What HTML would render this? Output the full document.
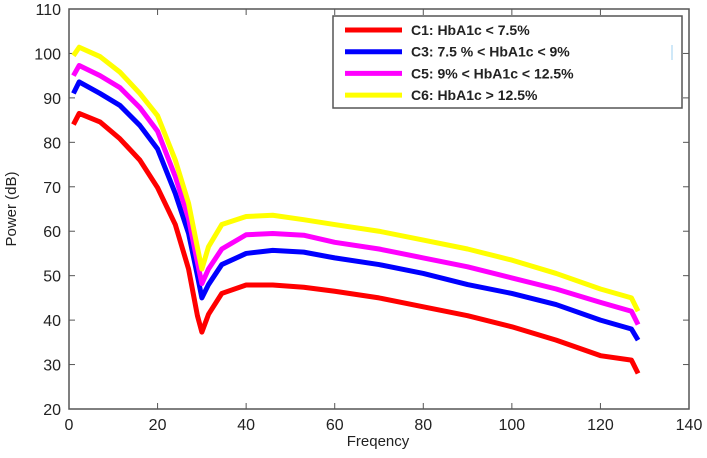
<!DOCTYPE html>
<html><head><meta charset="utf-8"><style>
body{margin:0;background:#fff;width:707px;height:453px;overflow:hidden}
text{font-family:"Liberation Sans",Arial,sans-serif}
</style></head><body>
<svg width="707" height="453" viewBox="0 0 707 453" xmlns="http://www.w3.org/2000/svg">
<g id="axes"></g><g id="series"></g><g id="legend"></g>
</svg>
<script>
const xTicks=[0,20,40,60,80,100,120,140];
const yTicks=[20,30,40,50,60,70,80,90,100,110];
const freq=[1,2.3,7,11.5,16,20,24,27,29,30,31.5,34.5,40,46,53,60,70,80,90,100,110,120,127,128.5];
const c1=[84,86.5,84.6,80.8,76,69.8,61.5,51.5,41,37.3,41.3,46,47.9,47.9,47.4,46.5,45,43,41,38.5,35.5,32,31,28];
const c3=[91,93.6,91,88.3,83.8,78.5,68.5,59.5,50,45,48,52.5,55,55.7,55.3,54,52.5,50.5,48,46,43.5,40,38,35.5];
const c5=[95,97.3,95,92.3,87.8,82.5,72.3,62.8,53,48.2,51.5,56,59.2,59.5,59.1,57.5,56,54,52,49.5,47,44,42,39];
const c6=[99.5,101.4,99.3,95.8,91,86,76,66.3,56.3,51.5,56.5,61.5,63.3,63.6,62.6,61.5,60,58,56,53.5,50.5,47,45,42];
const names=["C1: HbA1c < 7.5%","C3: 7.5 % < HbA1c  < 9%","C5: 9% < HbA1c < 12.5%","C6: HbA1c > 12.5%"];
const colors=["#ff0000","#0000ff","#ff00ff","#ffff00"];
const L=69,R=689,T=9,B=409;
const sx=v=>L+(v-0)/140*(R-L), sy=v=>B-(v-20)/90*(B-T);
const NS="http://www.w3.org/2000/svg";
function mk(tag,attrs,parent){const e=document.createElementNS(NS,tag);for(const k in attrs)e.setAttribute(k,attrs[k]);parent.appendChild(e);return e;}
const ax=document.getElementById('axes');
const frame=mk('rect',{x:L,y:T,width:R-L,height:B-T,fill:'none',stroke:'#555','stroke-width':1.5},ax);


xTicks.forEach(t=>{
  mk('line',{x1:sx(t),x2:sx(t),y1:B,y2:B-6,stroke:'#555'},ax);
  mk('line',{x1:sx(t),x2:sx(t),y1:T,y2:T+6,stroke:'#555'},ax);
  const tx=mk('text',{x:sx(t),y:B+21,'text-anchor':'middle','font-size':16,fill:'#222'},ax);tx.textContent=t;
  
  
});
yTicks.forEach(t=>{
  mk('line',{x1:L,x2:L+6,y1:sy(t),y2:sy(t),stroke:'#555'},ax);
  mk('line',{x1:R,x2:R-6,y1:sy(t),y2:sy(t),stroke:'#555'},ax);
  const tx=mk('text',{x:L-8,y:sy(t)+6,'text-anchor':'end','font-size':16,fill:'#222'},ax);tx.textContent=t;
  
  
});
const xl=mk('text',{x:378,y:446,'text-anchor':'middle','font-size':15,fill:'#222'},ax);xl.textContent='Freqency';


const yl=mk('text',{x:0,y:0,transform:'translate(16,209) rotate(-90)','text-anchor':'middle','font-size':15,fill:'#222'},ax);yl.textContent='Power (dB)';


const sg=document.getElementById('series');
[c1,c3,c5,c6].forEach((s,i)=>{
  const p=mk('polyline',{points:s.map((v,j)=>sx(freq[j])+','+sy(v)).join(' '),fill:'none',stroke:colors[i],'stroke-width':5,'stroke-linejoin':'round'},sg);
  
  
});
const lg=document.getElementById('legend');
const box=mk('rect',{x:333,y:16,width:349,height:92,fill:'#fff',stroke:'#555','stroke-width':1.5},lg);


names.forEach((n,i)=>{
  const y=30+i*21.7;
  mk('line',{x1:345,x2:402,y1:y,y2:y,stroke:colors[i],'stroke-width':5},lg);
  const t=mk('text',{x:411,y:y+5,'font-size':14,'font-weight':'bold',fill:'#222'},lg);t.textContent=n;
  
  
});
mk('line',{x1:672,x2:672,y1:45,y2:60,stroke:'#bfe0f5','stroke-width':1.5},lg);
</script>
</body></html>
